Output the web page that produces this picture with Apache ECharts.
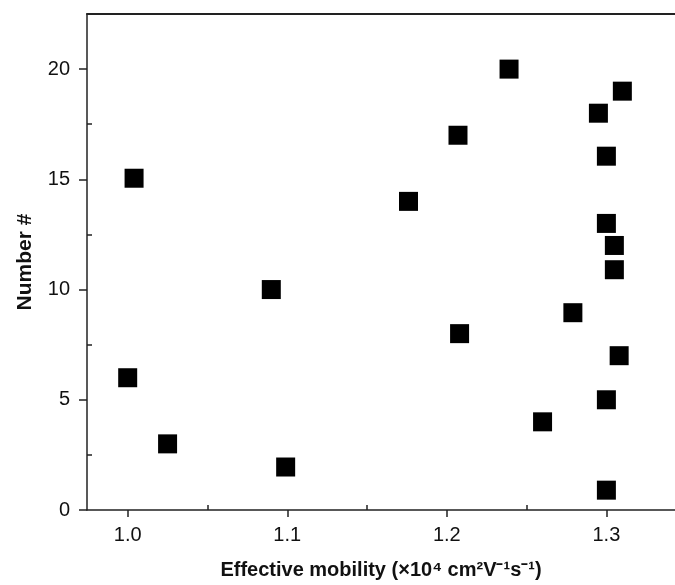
<!DOCTYPE html>
<html>
<head>
<meta charset="utf-8">
<script src="https://cdn.jsdelivr.net/npm/echarts@6/dist/echarts.min.js"></script>
<style>
    html, body { margin: 0; padding: 0; background: #fff; }
    #chart { width: 675px; height: 585px; }
</style>
</head>
<body>
<div id="chart"></div>
<script>
// Sample number (1..20) and its effective mobility (x10^4 cm2/Vs)
const sampleNo = [1, 2, 3, 4, 5, 6, 7, 8, 9, 10, 11, 12, 13, 14, 15, 16, 17, 18, 19, 20];
const yPos = [0.9, 1.95, 3, 4, 5, 6, 7, 8, 8.95, 10, 10.9, 12, 13, 14, 15.05, 16.05, 17, 18, 19, 20];
const mobility = [1.300, 1.099, 1.025, 1.260, 1.300, 1.000, 1.308, 1.208, 1.279, 1.090,
                  1.305, 1.305, 1.300, 1.176, 1.004, 1.300, 1.207, 1.295, 1.310, 1.239];

const xMajor = [1.0, 1.1, 1.2, 1.3];
const xMinor = [1.05, 1.15, 1.25];
const yMajor = [0, 5, 10, 15, 20];
const yMinor = [2.5, 7.5, 12.5, 17.5];

const font = "'Liberation Sans', Arial, sans-serif";
const axisColor = '#222';

const points = sampleNo.map((n, i) => [mobility[i], yPos[i]]);

const chart = echarts.init(document.getElementById('chart'));

const option = {
    backgroundColor: '#fff',
    animation: false,
    grid: { left: 87, right: 0, top: 14, bottom: 71 },
    xAxis: [
        {
            type: 'value',
            position: 'bottom',
            min: 0.9745,
            max: 1.343,
            name: 'Effective mobility (×10⁴ cm²V⁻¹s⁻¹)',
            nameLocation: 'middle',
            nameGap: 50,
            nameTextStyle: { fontFamily: font, fontWeight: 'bold', fontSize: 20, color: '#111' },
            axisLine: { show: true, lineStyle: { color: axisColor, width: 1.5 } },
            axisTick: { show: true, inside: false, length: 7, customValues: xMajor, lineStyle: { color: axisColor, width: 1.5 } },
            axisLabel: {
                customValues: xMajor, margin: 15, fontFamily: font, fontSize: 20, color: '#111',
                formatter: v => v.toFixed(1)
            },
            splitLine: { show: false }
        },
        {
            // minor ticks, pointing into the plot
            type: 'value',
            position: 'bottom',
            min: 0.9745,
            max: 1.343,
            axisLine: { show: false },
            axisTick: { show: true, inside: true, length: 5, customValues: xMinor, lineStyle: { color: axisColor, width: 1.5 } },
            axisLabel: { show: false },
            splitLine: { show: false }
        },
        {
            // top frame line
            type: 'value',
            position: 'top',
            min: 0.9745,
            max: 1.343,
            axisLine: { show: true, lineStyle: { color: axisColor, width: 2 } },
            axisTick: { show: false },
            axisLabel: { show: false },
            splitLine: { show: false }
        }
    ],
    yAxis: [
        {
            type: 'value',
            position: 'left',
            min: 0,
            max: 22.5,
            name: 'Number #',
            nameLocation: 'middle',
            nameGap: 51,
            nameTextStyle: { fontFamily: font, fontWeight: 'bold', fontSize: 21, color: '#111' },
            axisLine: { show: true, lineStyle: { color: axisColor, width: 1.5 } },
            axisTick: { show: true, inside: false, length: 8, customValues: yMajor, lineStyle: { color: axisColor, width: 1.5 } },
            axisLabel: { customValues: yMajor, margin: 17, fontFamily: font, fontSize: 20, color: '#111' },
            splitLine: { show: false }
        },
        {
            type: 'value',
            position: 'left',
            min: 0,
            max: 22.5,
            axisLine: { show: false },
            axisTick: { show: true, inside: true, length: 5, customValues: yMinor, lineStyle: { color: axisColor, width: 1.5 } },
            axisLabel: { show: false },
            splitLine: { show: false }
        }
    ],
    series: [
        {
            type: 'scatter',
            xAxisIndex: 0,
            yAxisIndex: 0,
            symbol: 'rect',
            symbolSize: 19,
            data: points,
            itemStyle: { color: '#000', opacity: 1 }
        }
    ]
};

chart.setOption(option);
</script>
</body>
</html>
